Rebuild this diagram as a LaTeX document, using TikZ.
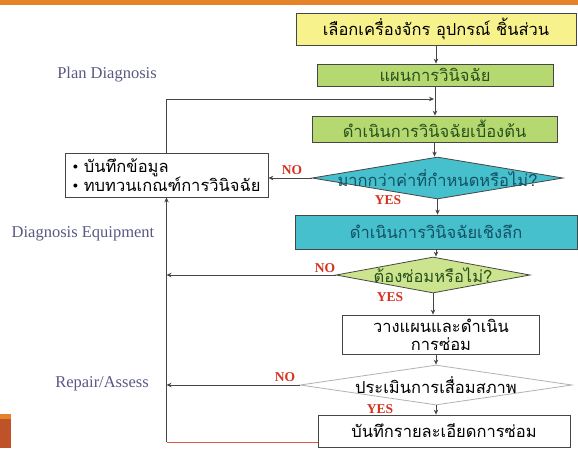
\documentclass[tikz,border=0pt]{standalone}
\usepackage{fontspec}
\setmainfont{Liberation Serif}
\newfontfamily\thai[Script=Thai]{Loma}
\usetikzlibrary{shapes.geometric,arrows.meta}

\definecolor{barorange}{RGB}{229,131,42}
\definecolor{blockrust}{RGB}{192,82,42}
\definecolor{paleyellow}{RGB}{248,242,140}
\definecolor{leafgreen}{RGB}{182,216,112}
\definecolor{lightgreen}{RGB}{204,228,142}
\definecolor{tealfill}{RGB}{70,192,204}
\definecolor{slate}{RGB}{88,88,132}
\definecolor{tagred}{RGB}{214,48,30}
\definecolor{linegray}{RGB}{70,70,70}
\definecolor{darkgreentext}{RGB}{40,80,30}
\definecolor{darkteal}{RGB}{20,80,100}

\tikzset{
  box/.style={draw=linegray, line width=0.8pt, rectangle, inner sep=0pt,
              font=\thai\fontsize{16.5}{18}\selectfont, align=center},
  dia/.style={draw=linegray, line width=0.8pt, diamond, inner sep=0pt},
  diatext/.style={font=\thai\fontsize{16.5}{18}\selectfont},
  sidelab/.style={font=\fontsize{16.5}{18}\selectfont, text=slate},
  tag/.style={font=\bfseries\fontsize{13.5}{15}\selectfont, text=tagred},
  arr/.style={draw=linegray, line width=0.8pt, -{Stealth[length=5pt,width=4.5pt]}},
  conn/.style={draw=linegray, line width=0.8pt}
}

\begin{document}
\begin{tikzpicture}[x=1pt,y=-1pt]
\useasboundingbox (0,0) rectangle (578,448);

% frame decoration
\fill[barorange] (0,0) rectangle (578,5);
\fill[barorange] (0,414) rectangle (11,419);
\fill[blockrust] (0,419) rectangle (11,448);

% side labels
\node[sidelab] (lplan) at (107,75) {Plan Diagnosis};
\node[sidelab] (lequip) at (83,234) {Diagnosis Equipment};
\node[sidelab] (lrep) at (102,384) {Repair/Assess};

% main column
\node[box, fill=paleyellow, minimum width=280pt, minimum height=32pt] (top) at (436,29)
  {เลือกเครื่องจักร อุปกรณ์ ชิ้นส่วน};
\node[box, fill=leafgreen, text=darkgreentext, minimum width=236pt, minimum height=22pt] (plan) at (435,75)
  {แผนการวินิจฉัย};
\node[box, fill=leafgreen, text=darkgreentext, minimum width=245pt, minimum height=26pt] (prelim) at (434.5,129)
  {ดำเนินการวินิจฉัยเบื้องต้น};
\node[dia, fill=tealfill, minimum width=251pt, minimum height=42pt] (chk) at (437.5,178) {};
\node[diatext, text=darkteal] (chkt) at (chk) {มากกว่าค่าที่กำหนดหรือไม่?};
\node[box, fill=tealfill, text=darkteal, minimum width=282pt, minimum height=34pt] (deep) at (436,232)
  {ดำเนินการวินิจฉัยเชิงลึก};
\node[dia, fill=lightgreen, minimum width=194pt, minimum height=36pt] (fix) at (433,275) {};
\node[diatext, text=darkgreentext] (fixt) at (fix) {ต้องซ่อมหรือไม่?};
\node[box, fill=white, minimum width=197pt, minimum height=39pt] (plan2) at (441,334.5)
  {วางแผนและดำเนิน\\การซ่อม};
\node[dia, draw=gray!60, fill=white, minimum width=272pt, minimum height=40pt] (eval) at (436,385) {};
\node[diatext] (evalt) at (eval) {ประเมินการเสื่อมสภาพ};
\node[box, fill=white, minimum width=252pt, minimum height=32pt] (rec) at (444,431)
  {บันทึกรายละเอียดการซ่อม};

% record box on the left
\node[box, fill=white, minimum width=203pt, minimum height=44pt, align=left,
      font=\thai\fontsize{16.5}{19}\selectfont] (note) at (166.5,175)
  {{\rmfamily •} บันทึกข้อมูล\\{\rmfamily •} ทบทวนเกณฑ์การวินิจฉัย};

% decision labels
\node[tag] (no1) at (292,170) {NO};
\node[tag] (yes1) at (388,200) {YES};
\node[tag] (no2) at (325,268) {NO};
\node[tag] (yes2) at (390,297) {YES};
\node[tag] (no3) at (285,377) {NO};
\node[tag] (yes3) at (380,409) {YES};

% downward flow
\draw[arr] (top.south) -- (top.south |- plan.north);
\draw[arr] (plan.south) -- (plan.south |- prelim.north);
\draw[arr] (prelim.south) -- (prelim.south |- chk.north);
\draw[arr] (chk.south) -- (chk.south |- deep.north);
\draw[arr] (deep.south) -- (deep.south |- fix.north);
\draw[arr] (fix.south) -- (fix.south |- plan2.north);
\draw[arr] (eval.north |- plan2.south) -- (eval.north);
\draw[arr] (eval.south) -- (eval.south |- rec.north);

% feedback loop
\coordinate (fb) at (434,99);
\coordinate (rc) at (166.5,442);
\draw[arr] (note.north) |- (fb);
\draw[arr] (chk.west) -- (chk.west -| note.east);
\draw[arr] (fix.west) -- (fix.west -| note.south);
\draw[arr] (eval.west) -- (eval.west -| note.south);
\draw[draw=tagred!80, line width=0.8pt] (rec.west |- rc) -- (rc);
\draw[arr] (rc) -- (note.south);
\end{tikzpicture}
\end{document}
